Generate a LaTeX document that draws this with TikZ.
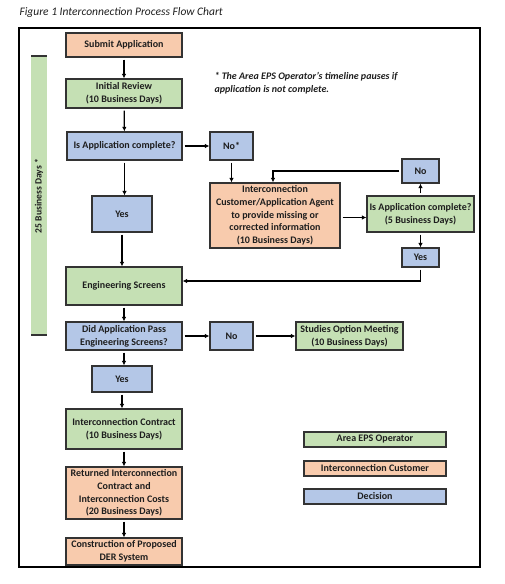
\documentclass[tikz,border=0pt]{standalone}
\usepackage{fontspec}
\setmainfont{Carlito}
\usetikzlibrary{arrows.meta}
\definecolor{opgreen}{HTML}{C5E0B4}
\definecolor{custorange}{HTML}{F8CBAD}
\definecolor{decblue}{HTML}{B4C7E7}
\definecolor{edgegray}{HTML}{333333}
\definecolor{inkdark}{HTML}{1E1E1E}
\tikzset{
  box/.style={draw=edgegray, line width=1.2pt, inner sep=1pt, align=center, text=inkdark},
  opbox/.style={box, fill=opgreen},
  custbox/.style={box, fill=custorange},
  decbox/.style={box, fill=decblue},
  flow/.style={-{Latex[length=4.5pt,width=4.5pt]}, line width=1.3pt, shorten <=2pt}
}
\begin{document}
\begin{tikzpicture}[x=1pt, y=-1pt, font=\fontsize{10}{12.7}\selectfont\bfseries]
    % Page size and frame
    \useasboundingbox (0,0) rectangle (504,584);
    \node[anchor=west, font=\fontsize{11.5}{13}\selectfont\itshape, text=inkdark] (title) at (16,12) {Figure 1 Interconnection Process Flow Chart};
    \draw[line width=2pt] (19,28) rectangle (480,567);

    % Timeline bar on the left
    \fill[opgreen] (31,56) rectangle (47,335);
    \draw[line width=1.6pt, edgegray] (31,56) -- (47,56);
    \draw[line width=1.6pt, edgegray] (31,335) -- (47,335);
    \node[rotate=90, text=inkdark, font=\fontsize{9.6}{12}\selectfont\bfseries] (days) at (39,196) {25 Business Days *};

    % Note
    \node[anchor=north west, align=left, font=\fontsize{10}{12.7}\selectfont\bfseries\itshape, text=inkdark] (note) at (211,69)
      {* The Area EPS Operator's timeline pauses if\\application is not complete.};

    % Main column
    \node[custbox, minimum width=116, minimum height=24] (submit) at (124,45) {Submit Application};
    \node[opbox, minimum width=116, minimum height=29] (review) at (124,93.5) {Initial Review\\(10 Business Days)};
    \node[decbox, minimum width=115, minimum height=28] (complete) at (124.5,146) {Is Application complete?};
    \node[decbox, minimum width=60, minimum height=36] (yes1) at (122,214) {Yes};
    \node[opbox, minimum width=116, minimum height=38] (screens) at (124,286) {Engineering Screens};
    \node[decbox, minimum width=116, minimum height=28] (pass) at (124,336) {Did Application Pass\\Engineering Screens?};
    \node[decbox, minimum width=60, minimum height=26] (yes3) at (122,379) {Yes};
    \node[opbox, minimum width=116, minimum height=40] (contract) at (124,429) {Interconnection Contract\\(10 Business Days)};
    \node[custbox, minimum width=116, minimum height=52] (returned) at (124,493)
      {Returned Interconnection\\Contract and\\Interconnection Costs\\(20 Business Days)};
    \node[custbox, minimum width=116, minimum height=27] (build) at (124,551.5) {Construction of Proposed\\DER System};

    % Incomplete application loop
    \node[decbox, minimum width=43, minimum height=28] (no1) at (231.5,146) {No*};
    \node[custbox, minimum width=130, minimum height=65] (agent) at (275,215.5)
      {Interconnection\\Customer/Application Agent\\to provide missing or\\corrected information\\(10 Business Days)};
    \node[opbox, minimum width=107, minimum height=36] (check) at (420.5,214) {Is Application complete?\\(5 Business Days)};
    \node[decbox, minimum width=37, minimum height=24] (no2) at (420.5,171) {No};
    \node[decbox, minimum width=37, minimum height=19] (yes2) at (420.5,257.5) {Yes};

    % Failed screens branch
    \node[decbox, minimum width=43, minimum height=28] (no3) at (231.5,336) {No};
    \node[opbox, minimum width=107, minimum height=28] (studies) at (349.5,336) {Studies Option Meeting\\(10 Business Days)};

    % Legend
    \node[opbox, minimum width=142, minimum height=15] (leg1) at (375,439.5) {Area EPS Operator};
    \node[custbox, minimum width=142, minimum height=15] (leg2) at (375,468.5) {Interconnection Customer};
    \node[decbox, minimum width=142, minimum height=15] (leg3) at (375,496.5) {Decision};

    % Arrows
    \draw[flow] (submit) -- (review);
    \draw[flow] (review) -- (complete);
    \draw[flow] (complete.east) -- (no1.west);
    \draw[flow] (complete.south) -- (complete.south |- yes1.north);
    \draw[flow] (yes1.south) -- (yes1.south |- screens.north);
    \draw[flow] (no1.south) -- (no1.south |- agent.north);
    \draw[flow] ([yshift=-2pt]agent.east) -- ([yshift=-2pt]agent.east -| check.west);
    \draw[flow] (check.north) -- (no2.south);
    \draw[flow] (no2.west) -| ([xshift=-2pt]agent.north);
    \draw[flow] (check.south) -- (yes2.north);
    \draw[flow] (yes2.south) |- ([yshift=5pt]screens.east);
    \draw[flow] (screens) -- (pass);
    \draw[flow] (pass.east) -- (no3.west);
    \draw[flow] (no3.east) -- (studies.west);
    \draw[flow] (pass.south) -- (pass.south |- yes3.north);
    \draw[flow] (yes3.south) -- (yes3.south |- contract.north);
    \draw[flow] (contract) -- (returned);
    \draw[flow] (returned) -- (build);
\end{tikzpicture}
\end{document}
